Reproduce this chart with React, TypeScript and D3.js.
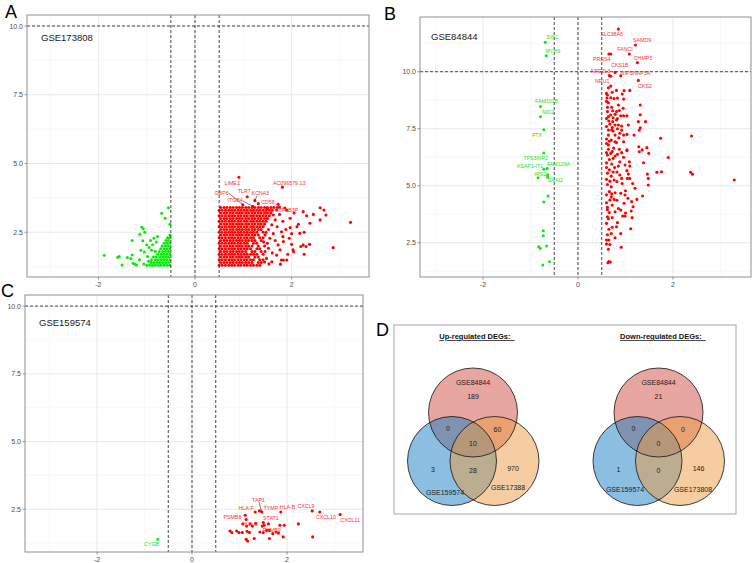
import * as d3 from "d3";

type Pt = [number, number];
type Label = { name: string; x: number; y: number; lx: number; ly: number; sx?: number; sy?: number };
type Frame = { l: number; r: number; t: number; b: number };

const FONT = "'Liberation Sans', Arial, Helvetica, sans-serif";
const UP_COL = "#ff0000";
const DOWN_COL = "#00ee00";

const X_TICKS = [-2, 0, 2];
const X_MINOR = [-3, -1, 1, 3];
const Y_TICKS = [2.5, 5, 7.5, 10];
const CUT_X = [-0.5, 0, 0.5];
const CUT_Y = 10;

// rows of [y, x1, x2, ...] for the overplotted blocks
const rows = (r: number[][]): Pt[] => r.flatMap(([y, ...xs]) => xs.map((x) => [x, y] as Pt));

// ---------- GSE173808 ----------
const upBlockA = [
  [1.3, 0.5, 0.56, 0.63, 0.7, 0.76, 0.82, 0.89, 0.95, 1.02, 1.08, 1.15, 1.21, 1.28, 1.34],
  [1.4, 0.53, 0.6, 0.66, 0.73, 0.79, 0.86, 0.92, 0.98, 1.05, 1.11, 1.18, 1.31, 1.37],
  [1.5, 0.5, 0.56, 0.63, 0.7, 0.76, 0.82, 0.89, 0.95, 1.02, 1.08, 1.15, 1.21, 1.34, 1.41],
  [1.6, 0.53, 0.6, 0.66, 0.73, 0.79, 0.86, 0.92, 0.98, 1.05, 1.11, 1.24, 1.31],
  [1.7, 0.5, 0.56, 0.63, 0.7, 0.76, 0.82, 0.89, 0.95, 1.02, 1.08, 1.15, 1.21, 1.28, 1.41],
  [1.8, 0.53, 0.6, 0.66, 0.73, 0.79, 0.86, 0.92, 0.98, 1.05, 1.18, 1.24, 1.37],
  [1.9, 0.5, 0.56, 0.63, 0.7, 0.76, 0.82, 0.89, 0.95, 1.02, 1.08, 1.15, 1.28, 1.34],
  [2.0, 0.53, 0.6, 0.66, 0.73, 0.79, 0.86, 0.92, 0.98, 1.05, 1.11, 1.18, 1.31, 1.44],
  [2.1, 0.5, 0.56, 0.63, 0.7, 0.76, 0.82, 0.89, 0.95, 1.02, 1.08, 1.21, 1.28],
  [2.2, 0.53, 0.6, 0.66, 0.73, 0.79, 0.86, 0.92, 0.98, 1.05, 1.11, 1.18, 1.24, 1.37],
  [2.3, 0.5, 0.56, 0.63, 0.7, 0.76, 0.82, 0.89, 0.95, 1.02, 1.08, 1.15, 1.21, 1.34, 1.41],
  [2.4, 0.53, 0.6, 0.66, 0.73, 0.79, 0.86, 0.92, 0.98, 1.05, 1.11, 1.18, 1.24, 1.31],
  [2.5, 0.5, 0.56, 0.63, 0.7, 0.76, 0.82, 0.89, 0.95, 1.02, 1.08, 1.15, 1.21, 1.28, 1.41, 1.47],
  [2.6, 0.53, 0.6, 0.66, 0.73, 0.79, 0.86, 0.92, 0.98, 1.05, 1.11, 1.18, 1.24, 1.31, 1.37],
  [2.7, 0.5, 0.56, 0.63, 0.7, 0.76, 0.82, 0.89, 0.95, 1.02, 1.08, 1.15, 1.21, 1.28, 1.34, 1.41],
  [2.8, 0.53, 0.6, 0.66, 0.73, 0.79, 0.86, 0.92, 0.98, 1.05, 1.11, 1.18, 1.24, 1.31, 1.37, 1.44],
  [2.9, 0.5, 0.56, 0.63, 0.7, 0.76, 0.82, 0.89, 0.95, 1.02, 1.08, 1.15, 1.21, 1.28, 1.34, 1.41, 1.47],
  [3.0, 0.53, 0.6, 0.66, 0.73, 0.79, 0.86, 0.92, 0.98, 1.05, 1.11, 1.18, 1.24, 1.31, 1.37, 1.44, 1.5],
  [3.1, 0.5, 0.56, 0.63, 0.7, 0.76, 0.82, 0.89, 0.95, 1.02, 1.08, 1.15, 1.21, 1.28, 1.34, 1.41, 1.47, 1.54],
  [3.2, 0.53, 0.6, 0.66, 0.73, 0.79, 0.86, 0.92, 0.98, 1.05, 1.11, 1.18, 1.24, 1.31, 1.37, 1.44, 1.5, 1.57],
  [3.3, 0.5, 0.56, 0.63, 0.7, 0.76, 0.82, 0.89, 0.95, 1.02, 1.08, 1.15, 1.21, 1.28, 1.34, 1.41, 1.47, 1.54, 1.6],
  [3.4, 0.53, 0.6, 0.66, 0.73, 0.79, 0.86, 0.92, 0.98, 1.05, 1.11, 1.18, 1.24, 1.31, 1.37, 1.44, 1.5, 1.57, 1.63, 1.7],
];
const upSparseA: Pt[] = [
  [3.22, 2.86], [2.86, 1.94], [2.59, 3.39], [2.67, 3.31], [2.71, 3.13], [2.59, 2.95], [2.38, 2.83], [2.45, 3.15],
  [2.31, 3.1], [2.24, 3.25], [2.14, 2.79], [2.11, 2.7], [2.17, 2.46], [2.26, 2.5], [1.97, 2.67], [1.95, 2.28],
  [2.0, 2.06], [2.3, 1.98], [2.37, 2.06], [2.19, 1.98], [2.26, 1.7], [2.04, 1.79], [1.79, 2.52], [1.82, 2.34],
  [1.83, 2.16], [1.72, 2.04], [1.76, 1.86], [1.69, 1.67], [1.79, 1.49], [1.77, 1.34], [1.9, 1.49], [1.66, 2.95],
  [1.59, 2.77], [1.62, 3.13], [1.69, 3.31], [1.72, 3.52], [1.97, 3.01], [1.55, 2.28], [1.52, 1.92], [1.48, 1.55],
  [1.59, 1.43], [1.45, 2.4], [1.83, 1.49], [2.03, 1.86], [2.24, 2.04], [1.9, 3.3], [1.82, 2.9], [1.52, 2.6],
  [1.62, 2.45], [1.5, 2.1], [1.6, 1.75], [1.53, 1.35], [1.86, 3.38], [2.05, 3.2], [1.75, 3.15], [1.7, 2.7],
  [1.88, 2.6], [2.0, 2.45], [1.66, 2.2], [1.92, 1.7], [1.45, 1.8], [1.42, 2.15], [1.5, 3.35], [1.44, 1.42],
];
const upLabelsA: Label[] = [
  { name: "LIME1", x: 0.91, y: 4.5, lx: 0.77, ly: 4.29 },
  { name: "AC096579.13", x: 1.81, y: 4.14, lx: 1.95, ly: 4.29 },
  { name: "TLR7", x: 1.08, y: 3.79, lx: 1.02, ly: 4.01 },
  { name: "KCNA3", x: 1.24, y: 3.65, lx: 1.35, ly: 3.93, sx: 1.28, sy: 3.82 },
  { name: "CD58", x: 1.31, y: 3.54, lx: 1.51, ly: 3.61 },
  { name: "GBP6", x: 0.99, y: 3.5, lx: 0.55, ly: 3.94, sx: 0.7, sy: 3.92 },
  { name: "ITGB4", x: 1.2, y: 3.44, lx: 0.83, ly: 3.67, sx: 0.99, sy: 3.64 },
  { name: "ATP1B3P", x: 1.75, y: 3.42, lx: 1.9, ly: 3.31 },
];
const downBlockA = [
  [1.3, -0.52, -0.58, -0.64, -0.7, -0.76, -0.82, -0.88, -0.94, -1.0],
  [1.4, -0.55, -0.61, -0.67, -0.73, -0.79, -0.85, -0.91],
  [1.5, -0.52, -0.58, -0.64, -0.7, -0.76, -0.82, -0.9],
  [1.6, -0.55, -0.61, -0.67, -0.73, -0.8, -0.86],
  [1.7, -0.52, -0.58, -0.64, -0.7, -0.77],
  [1.8, -0.55, -0.61, -0.67, -0.74, -0.82],
  [1.9, -0.52, -0.58, -0.64, -0.71],
  [2.0, -0.55, -0.61, -0.68],
  [2.1, -0.52, -0.58, -0.64],
  [2.2, -0.55, -0.6],
  [2.3, -0.52, -0.57],
  [2.4, -0.52],
];
const downSparseA: Pt[] = [
  [-1.88, 1.66], [-1.6, 1.59], [-1.57, 1.62], [-1.51, 1.31], [-1.4, 1.58], [-1.33, 1.55], [-1.3, 1.67],
  [-1.28, 1.37], [-1.24, 1.34], [-1.21, 1.31], [-1.3, 2.2], [-1.1, 2.68], [-1.07, 2.62], [-1.04, 2.5],
  [-1.14, 2.43], [-1.08, 2.19], [-0.69, 3.19], [-0.62, 3.01], [-0.55, 3.39], [-0.52, 2.79], [-1.0, 2.05],
  [-0.95, 1.95], [-1.12, 1.85], [-1.05, 1.78], [-0.92, 2.2], [-0.88, 2.05], [-0.98, 1.62], [-1.15, 1.5],
  [-0.9, 1.85], [-0.85, 2.28], [-0.8, 2.15], [-0.78, 2.35], [-1.06, 1.35], [-0.96, 1.45],
];

// ---------- GSE84844 ----------
const upB: Pt[] = [
  [0.64, 9.3], [0.69, 9.37], [0.81, 9.18], [0.97, 9.17], [1.09, 9.18], [0.62, 8.98], [0.69, 8.86], [0.76, 8.82],
  [0.83, 8.85], [0.93, 9.02], [0.96, 8.8], [1.31, 8.54], [0.64, 8.64], [0.62, 8.44], [0.71, 8.44], [0.85, 8.54],
  [0.62, 8.25], [0.73, 8.29], [0.81, 8.25], [0.64, 8.03], [0.69, 8.1], [0.74, 7.98], [0.78, 8.13], [0.9, 8.07],
  [0.96, 8.07], [1.03, 8.07], [1.31, 8.11], [0.65, 7.84], [0.73, 7.81], [0.81, 7.88], [0.78, 7.66], [0.85, 7.66],
  [0.92, 7.62], [1.06, 7.66], [1.27, 7.81], [1.42, 7.81], [0.64, 7.44], [0.71, 7.44], [0.92, 7.44], [1.29, 7.44],
  [1.31, 7.54], [1.18, 7.22], [1.74, 7.08], [2.39, 7.18], [0.64, 7.22], [0.78, 7.22], [0.96, 7.22], [1.03, 7.25],
  [0.78, 6.93], [0.81, 6.89], [0.96, 6.93], [1.28, 6.71], [1.45, 6.67], [1.35, 6.57], [1.03, 6.57], [0.64, 6.79],
  [0.69, 6.42], [0.72, 6.5], [0.78, 6.3], [0.74, 6.2], [0.66, 6.15], [0.62, 6.35], [1.03, 6.54], [1.29, 6.49],
  [1.49, 6.42], [1.9, 6.24], [1.38, 6.01], [1.08, 6.05], [1.09, 5.86], [0.99, 5.91], [0.88, 6.05], [0.85, 5.86],
  [1.46, 5.51], [1.48, 5.32], [1.48, 5.03], [1.66, 5.59], [1.76, 5.61], [2.37, 5.59], [2.41, 5.5], [3.29, 5.25],
  [1.03, 5.66], [1.06, 5.51], [1.04, 5.32], [1.09, 5.32], [0.88, 5.47], [0.92, 5.32], [0.66, 5.7], [0.62, 5.55],
  [0.7, 5.42], [0.6, 5.28], [0.67, 5.2], [0.76, 5.25], [0.82, 5.18], [0.62, 5.05], [0.7, 4.95], [1.2, 4.89],
  [1.0, 4.78], [0.9, 4.67], [0.99, 4.59], [0.66, 4.74], [0.71, 4.64], [0.78, 4.69], [0.67, 4.37], [0.76, 4.4],
  [0.82, 4.36], [1.13, 4.3], [1.24, 4.4], [1.36, 4.55], [0.97, 4.23], [0.72, 4.15], [0.62, 4.05], [1.16, 4.08],
  [1.12, 3.89], [0.66, 3.82], [0.78, 3.86], [0.9, 3.93], [1.14, 3.6], [0.62, 3.64], [0.64, 3.55], [0.94, 3.67],
  [0.99, 3.67], [0.83, 3.38], [0.81, 3.2], [1.11, 3.11], [0.72, 3.18], [0.65, 3.09], [0.6, 2.62], [0.65, 2.62],
  [0.67, 2.42], [0.78, 2.72], [0.6, 2.44], [0.64, 2.21], [0.91, 2.3], [0.65, 1.67], [0.68, 1.65], [0.63, 1.62],
  [0.6, 7.95], [0.67, 7.7], [0.72, 7.55], [0.6, 7.6], [0.83, 7.5], [0.88, 7.3], [0.6, 7.05], [0.7, 7.0],
  [0.86, 7.1], [0.64, 6.6], [0.75, 6.65], [0.87, 6.6], [0.92, 6.45], [0.83, 6.38], [0.96, 6.25], [0.6, 6.0],
  [0.71, 5.95], [0.77, 5.8], [0.6, 5.8], [0.82, 5.6], [0.74, 5.6], [0.93, 5.1], [0.6, 4.6], [0.6, 4.25],
  [0.85, 4.0], [0.6, 3.35], [0.7, 2.9], [0.62, 2.85], [0.72, 3.6], [0.9, 2.9], [1.0, 3.8], [1.05, 4.45],
  [1.15, 5.1], [0.6, 8.7], [0.6, 9.05], [0.72, 9.1], [0.6, 6.85], [0.6, 6.45], [0.66, 6.95], [0.74, 7.4],
  [0.83, 7.95], [0.87, 8.3], [0.95, 8.4], [0.61, 8.85], [0.69, 10.78], [0.62, 3.95], [0.7, 4.5],
];
const upLabelsB: Label[] = [
  { name: "SLC38A6", x: 0.85, y: 11.87, lx: 0.71, ly: 11.64 },
  { name: "SAMD9", x: 1.21, y: 11.17, lx: 1.35, ly: 11.38 },
  { name: "FANCI", x: 1.08, y: 10.78, lx: 0.99, ly: 10.98 },
  { name: "CHMP5", x: 1.25, y: 10.4, lx: 1.37, ly: 10.59 },
  { name: "PRSS4", x: 0.65, y: 10.78, lx: 0.5, ly: 10.54 },
  { name: "CKS1B", x: 0.78, y: 9.97, lx: 0.88, ly: 10.29 },
  { name: "NFE2L3", x: 0.66, y: 9.83, lx: 0.48, ly: 10.03 },
  { name: "NIPSNAP3A", x: 0.9, y: 9.82, lx: 1.21, ly: 9.96 },
  { name: "NRU1", x: 0.69, y: 9.8, lx: 0.51, ly: 9.59 },
  { name: "CKS2", x: 1.27, y: 9.62, lx: 1.41, ly: 9.37 },
];
const downB: Pt[] = [
  [-0.64, 5.48], [-0.63, 4.55], [-0.72, 4.29], [-0.73, 3.03], [-0.73, 2.81], [-0.83, 2.32], [-0.79, 2.25],
  [-0.66, 2.36], [-0.6, 1.67], [-0.74, 1.52],
];
const downLabelsB: Label[] = [
  { name: "SIX1", x: -0.69, y: 11.29, lx: -0.54, ly: 11.51 },
  { name: "MYH9", x: -0.67, y: 10.7, lx: -0.53, ly: 10.92 },
  { name: "FAM101B", x: -0.79, y: 8.47, lx: -0.66, ly: 8.7 },
  { name: "NID2", x: -0.79, y: 8.03, lx: -0.63, ly: 8.25 },
  { name: "FTX", x: -0.72, y: 7.46, lx: -0.86, ly: 7.24 },
  { name: "TP53INP2", x: -0.72, y: 6.43, lx: -0.89, ly: 6.21 },
  { name: "ASAP1-IT1", x: -0.72, y: 5.72, lx: -1.01, ly: 5.85 },
  { name: "FAM129A", x: -0.65, y: 5.75, lx: -0.41, ly: 5.94 },
  { name: "IRS2", x: -0.84, y: 5.35, lx: -0.79, ly: 5.51 },
  { name: "SNAI2", x: -0.64, y: 5.37, lx: -0.48, ly: 5.24 },
];

// ---------- GSE159574 ----------
const upC: Pt[] = [
  [1.14, 2.12], [0.8, 1.7], [0.84, 1.64], [0.94, 1.7], [0.99, 1.64], [1.06, 1.64], [1.07, 1.96], [1.15, 1.88],
  [1.16, 1.69], [1.21, 1.64], [1.27, 1.88], [1.34, 1.98], [1.14, 1.39], [1.17, 1.33], [1.31, 1.42], [1.43, 1.66],
  [1.5, 2.01], [1.52, 1.91], [1.48, 1.88], [1.5, 1.64], [1.57, 1.72], [1.63, 1.42], [1.7, 1.6], [1.77, 1.66],
  [1.82, 1.62], [1.85, 1.91], [1.94, 1.91], [1.92, 1.48], [2.24, 1.96], [2.54, 1.48],
];
const upLabelsC: Label[] = [
  { name: "TAP1", x: 1.47, y: 2.4, lx: 1.4, ly: 2.86, sx: 1.41, sy: 2.76 },
  { name: "HLA-F", x: 1.33, y: 2.4, lx: 1.14, ly: 2.56 },
  { name: "TYMP", x: 1.42, y: 2.44, lx: 1.66, ly: 2.56 },
  { name: "HLA-B", x: 1.87, y: 2.4, lx: 2.01, ly: 2.58 },
  { name: "CXCL9", x: 2.53, y: 2.44, lx: 2.4, ly: 2.62 },
  { name: "CXCL10", x: 2.69, y: 2.4, lx: 2.82, ly: 2.22 },
  { name: "CXCL11", x: 3.12, y: 2.31, lx: 3.33, ly: 2.09 },
  { name: "PSMB8", x: 1.12, y: 2.28, lx: 0.85, ly: 2.22 },
  { name: "STAT1", x: 1.61, y: 1.96, lx: 1.66, ly: 2.16 },
  { name: "HLA-E", x: 1.22, y: 1.96, lx: 1.22, ly: 1.94 },
  { name: "PSMB9", x: 1.63, y: 1.72, lx: 1.68, ly: 1.73 },
];
const downC: Pt[] = [];
const downLabelsC: Label[] = [{ name: "CYGB", x: -0.72, y: 1.39, lx: -0.85, ly: 1.2 }];

// ---------- Venn ----------
const upSetNames = ["GSE84844", "GSE159574", "GSE17388"];
const downSetNames = ["GSE84844", "GSE159574", "GSE173808"];
// order: top only, top&left, top&right, all, left only, left&right, right only
const upCounts = [189, 0, 60, 10, 3, 28, 970];
const downCounts = [21, 0, 0, 0, 1, 0, 146];

type VolcanoProps = {
  id: string;
  frame: Frame;
  xDomain: [number, number];
  yDomain: [number, number];
  yMinor: number[];
  up: Pt[];
  down: Pt[];
  upLabels: Label[];
  downLabels: Label[];
  title: string;
  titlePos: [number, number];
};

function Volcano(p: VolcanoProps) {
  const { l, r, t, b } = p.frame;
  const x = d3.scaleLinear().domain(p.xDomain).range([l, r]);
  const y = d3.scaleLinear().domain(p.yDomain).range([b, t]);
  const allUp: Pt[] = [...p.up, ...p.upLabels.map((d) => [d.x, d.y] as Pt)];
  const allDown: Pt[] = [...p.down, ...p.downLabels.map((d) => [d.x, d.y] as Pt)];
  const labelEls = (labs: Label[], col: string) =>
    labs.map((d) => (
      <g key={d.name}>
        {d.sx !== undefined && (
          <line x1={x(d.sx)} y1={y(d.sy!)} x2={x(d.x)} y2={y(d.y)} stroke="#222" strokeWidth={0.6} />
        )}
        <text x={x(d.lx)} y={y(d.ly)} fill={col} fontSize={5.3} textAnchor="middle" dominantBaseline="central">
          {d.name}
        </text>
      </g>
    ));
  return (
    <g fontFamily={FONT}>
      <clipPath id={`clip-${p.id}`}>
        <rect x={l} y={t} width={r - l} height={b - t} />
      </clipPath>
      <rect x={l} y={t} width={r - l} height={b - t} fill="#fff" />
      <g clipPath={`url(#clip-${p.id})`}>
        {X_MINOR.map((v) => (
          <line key={"xm" + v} x1={x(v)} x2={x(v)} y1={t} y2={b} stroke="#f3f3f3" strokeWidth={0.6} />
        ))}
        {p.yMinor.map((v) => (
          <line key={"ym" + v} x1={l} x2={r} y1={y(v)} y2={y(v)} stroke="#f3f3f3" strokeWidth={0.6} />
        ))}
        {X_TICKS.map((v) => (
          <line key={"xg" + v} x1={x(v)} x2={x(v)} y1={t} y2={b} stroke="#e6e6e6" strokeWidth={0.9} />
        ))}
        {Y_TICKS.map((v) => (
          <line key={"yg" + v} x1={l} x2={r} y1={y(v)} y2={y(v)} stroke="#e6e6e6" strokeWidth={0.9} />
        ))}
        {allDown.map((d, i) => (
          <circle key={"d" + i} cx={x(d[0])} cy={y(d[1])} r={1.5} fill={DOWN_COL} />
        ))}
        {allUp.map((d, i) => (
          <circle key={"u" + i} cx={x(d[0])} cy={y(d[1])} r={1.55} fill={UP_COL} />
        ))}
        {CUT_X.map((v) => (
          <line key={"cx" + v} x1={x(v)} x2={x(v)} y1={t} y2={b} stroke="#333" strokeWidth={0.9} strokeDasharray="3 2" />
        ))}
        <line x1={l} x2={r} y1={y(CUT_Y)} y2={y(CUT_Y)} stroke="#333" strokeWidth={0.9} strokeDasharray="3 2" />
        {labelEls(p.upLabels, "#ff3030")}
        {labelEls(p.downLabels, "#22dd22")}
      </g>
      <rect x={l} y={t} width={r - l} height={b - t} fill="none" stroke="#8f8f8f" strokeWidth={1} />
      {X_TICKS.map((v) => (
        <g key={"xt" + v}>
          <line x1={x(v)} x2={x(v)} y1={b} y2={b + 2.5} stroke="#555" strokeWidth={0.6} />
          <text x={x(v)} y={b + 7} fontSize={7} fill="#4d4d4d" textAnchor="middle" dominantBaseline="central">
            {v}
          </text>
        </g>
      ))}
      {Y_TICKS.map((v) => (
        <g key={"yt" + v}>
          <line x1={l - 2.5} x2={l} y1={y(v)} y2={y(v)} stroke="#555" strokeWidth={0.6} />
          <text x={l - 4} y={y(v)} fontSize={7} fill="#4d4d4d" textAnchor="end" dominantBaseline="central">
            {v.toFixed(1)}
          </text>
        </g>
      ))}
      <text x={p.titlePos[0]} y={p.titlePos[1]} fontSize={9.5} fill="#1a1a1a">
        {p.title}
      </text>
    </g>
  );
}

type VennProps = {
  cx: number;
  cy: number;
  names: string[];
  counts: number[];
  title: string;
  titleX: number;
  nameOffsets: Pt[];
};

const VENN_R = 44.5;
const VENN_COLS = ["#cf4d41", "#197dc3", "#eb9b41"];
const COUNT_OFFSETS: Pt[] = [[0, -16], [-25, 16], [24.5, 16.5], [0, 30.5], [-40, 56.5], [0, 58], [40, 55.5]];

function Venn(p: VennProps) {
  const centers: Pt[] = [
    [p.cx, p.cy],
    [p.cx - 21, p.cy + 48.5],
    [p.cx + 21.5, p.cy + 48.5],
  ];
  return (
    <g fontFamily={FONT}>
      <text x={p.titleX} y={339} fontSize={7.5} fontWeight="bold" textAnchor="middle" fill="#111" textDecoration="underline">
        {p.title + "\u00a0\u00a0"}
      </text>
      {centers.map((c, i) => (
        <circle key={"f" + i} cx={c[0]} cy={c[1]} r={VENN_R} fill={VENN_COLS[i]} fillOpacity={0.5} />
      ))}
      {centers.map((c, i) => (
        <circle key={"s" + i} cx={c[0]} cy={c[1]} r={VENN_R} fill="none" stroke="#111" strokeWidth={0.8} />
      ))}
      {p.counts.map((v, i) => (
        <text key={"c" + i} x={p.cx + COUNT_OFFSETS[i][0]} y={p.cy + COUNT_OFFSETS[i][1]} fontSize={7} fill="#222"
          textAnchor="middle" dominantBaseline="central">
          {v}
        </text>
      ))}
      {p.names.map((n, i) => (
        <text key={"n" + i} x={p.cx + p.nameOffsets[i][0]} y={p.cy + p.nameOffsets[i][1]} fontSize={7} fill="#222"
          textAnchor="middle" dominantBaseline="central">
          {n}
        </text>
      ))}
    </g>
  );
}

export default function App() {
  return (
    <svg width={753} height={563} style={{ position: "absolute", left: 0, top: 0, background: "#fff" }}>
      <rect width={753} height={563} fill="#fff" />
      <Volcano
        id="a"
        frame={{ l: 27, r: 369, t: 15, b: 277 }}
        xDomain={[-3.478, 3.602]}
        yDomain={[0.873, 10.4]}
        yMinor={[1.25, 3.75, 6.25, 8.75]}
        up={[...rows(upBlockA), ...upSparseA]}
        down={[...rows(downBlockA), ...downSparseA]}
        upLabels={upLabelsA}
        downLabels={[]}
        title="GSE173808"
        titlePos={[41, 41]}
      />
      <Volcano
        id="b"
        frame={{ l: 420, r: 751, t: 17, b: 277 }}
        xDomain={[-3.326, 3.642]}
        yDomain={[0.996, 12.4]}
        yMinor={[1.25, 3.75, 6.25, 8.75, 11.25]}
        up={upB}
        down={downB}
        upLabels={upLabelsB}
        downLabels={downLabelsB}
        title="GSE84844"
        titlePos={[431, 40]}
      />
      <Volcano
        id="c"
        frame={{ l: 25, r: 363, t: 295, b: 552 }}
        xDomain={[-3.516, 3.6]}
        yDomain={[0.923, 10.41]}
        yMinor={[1.25, 3.75, 6.25, 8.75]}
        up={upC}
        down={downC}
        upLabels={upLabelsC}
        downLabels={downLabelsC}
        title="GSE159574"
        titlePos={[39, 326]}
      />
      <rect x={394} y={325} width={342} height={189} fill="none" stroke="#a6a6a6" strokeWidth={1} />
      <Venn cx={473} cy={412.5} names={upSetNames} counts={upCounts} title="Up-regulated DEGs:" titleX={477}
        nameOffsets={[[0, -30.5], [-28, 79.5], [35, 74.5]]} />
      <Venn cx={658.5} cy={412.5} names={downSetNames} counts={downCounts} title="Down-regulated DEGs:" titleX={663}
        nameOffsets={[[0, -30], [-33.5, 76.5], [34.5, 76.5]]} />
      <g fontFamily={FONT} fontSize={18} fill="#000">
        <text x={5} y={18}>A</text>
        <text x={384} y={20}>B</text>
        <text x={1} y={297}>C</text>
        <text x={376} y={336}>D</text>
      </g>
    </svg>
  );
}
